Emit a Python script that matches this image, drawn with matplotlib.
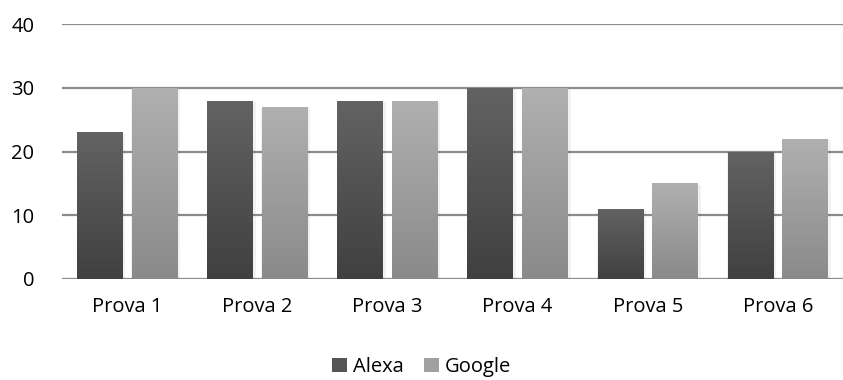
import numpy as np
import matplotlib.pyplot as plt
from matplotlib.colors import LinearSegmentedColormap
from matplotlib.patches import Patch

# ---------- DADOS ----------
categorias = ["Prova 1", "Prova 2", "Prova 3", "Prova 4", "Prova 5", "Prova 6"]
alexa = [23, 28, 28, 30, 11, 20]
google = [30, 27, 28, 30, 15, 22]

plt.rcParams['font.family'] = ['Open Sans', 'DejaVu Sans']

fig = plt.figure(figsize=(8.43, 3.80), dpi=100)
ax = fig.add_axes([62 / 843, 1 - 279 / 380, 1 - 62 / 843, 255 / 380])

x = np.arange(len(categorias))
largura = 0.35
desloc = 0.21

cm_alexa = LinearSegmentedColormap.from_list("a", ["#404040", "#636363"])
cm_google = LinearSegmentedColormap.from_list("g", ["#8a8a8a", "#b0b0b0"])
grad = np.linspace(0, 1, 256).reshape(-1, 1)

def barras_gradiente(xs, valores, cmap):
    bars = ax.bar(xs, valores, largura, color="none", zorder=3)
    for b in bars:
        bx, by = b.get_x(), b.get_y()
        w, h = b.get_width(), b.get_height()
        # sombra suave
        ax.bar(bx + w / 2 + 0.01, h + 0.2, w + 0.025, bottom=-0.4, color="#000000",
               alpha=0.05, zorder=2, linewidth=0)
        im = ax.imshow(grad, extent=[bx, bx + w, by, by + h], origin="lower",
                       cmap=cmap, aspect="auto", zorder=3)
        im.set_clip_path(b)
    return bars

barras_gradiente(x - desloc, alexa, cm_alexa)
barras_gradiente(x + desloc, google, cm_google)

ax.set_xlim(-0.5, len(categorias) - 0.5)
ax.set_ylim(0, 40)
ax.set_yticks([0, 10, 20, 30, 40])
ax.set_xticks(x)
ax.set_xticklabels(categorias)
ax.yaxis.grid(True, color="#8c8c8c", linewidth=1.6, zorder=1)
ax.set_axisbelow(True)
for s in ax.spines.values():
    s.set_visible(False)
ax.tick_params(axis="both", length=0, labelsize=14.5, colors="black")
ax.tick_params(axis="y", pad=20)
ax.tick_params(axis="x", pad=13)

handles = [Patch(facecolor="#555555", label="Alexa"),
           Patch(facecolor="#a0a0a0", label="Google")]
fig.legend(handles=handles, loc="center", bbox_to_anchor=(0.5, 1 - 367 / 380),
           ncol=2, frameon=False, fontsize=14.5, handlelength=0.75,
           handleheight=0.75, handletextpad=0.3, columnspacing=1.0)

fig.savefig("out.png", dpi=100)
